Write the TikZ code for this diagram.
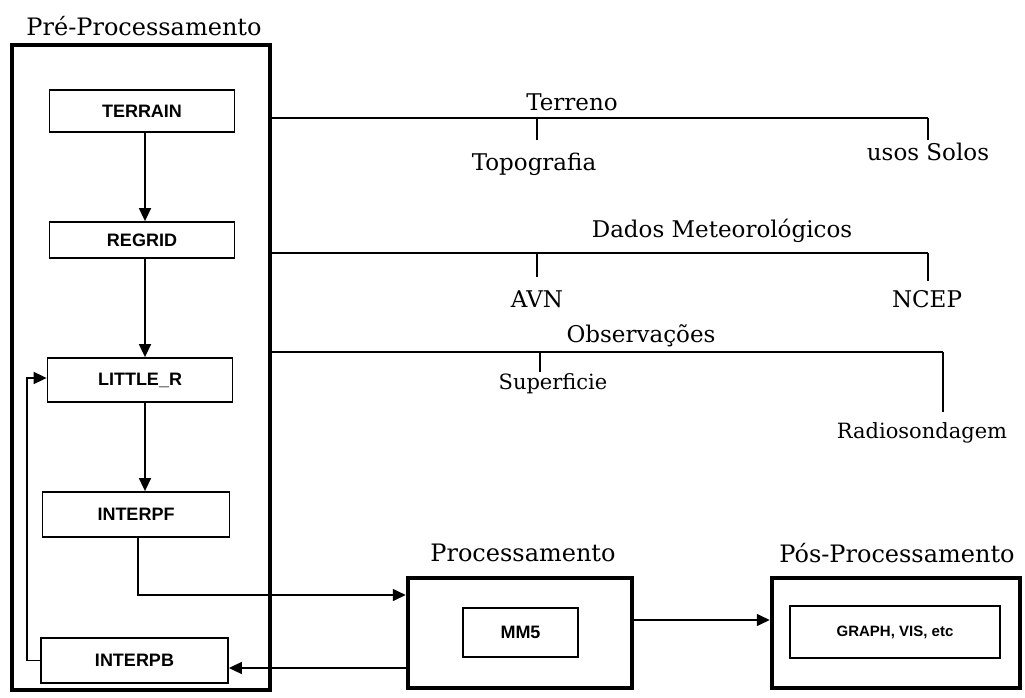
\documentclass[tikz,border=0pt]{standalone}
\usepackage{fontspec}
\setmainfont{DejaVu Serif}
\newfontfamily\boxfont{Liberation Sans}
\usetikzlibrary{arrows.meta}
\begin{document}
\begin{tikzpicture}[x=1pt,y=-1pt,
  inner/.style={draw, line width=1.8pt, inner sep=0pt, font=\boxfont\bfseries\fontsize{18}{18}\selectfont},
  group/.style={draw, line width=4.5pt, inner sep=0pt},
  title/.style={font=\fontsize{24}{24}\selectfont},
  leaf/.style={font=\fontsize{23}{23}\selectfont},
  leafs/.style={font=\fontsize{21}{21}\selectfont},
  flow/.style={line width=1.6pt, -{Triangle[length=13pt,width=12pt]}},
  tree/.style={line width=2.6pt},
  treev/.style={line width=2.4pt}]
\useasboundingbox (0,0) rectangle (1025,698);
% groups
\node[title] (tpre) at (144,26) {Pré-Processamento};
\node[group, minimum width=258pt, minimum height=645pt] (pre) at (141,367.5) {};
\node[title] (tproc) at (523,553) {Processamento};
\node[group, minimum width=224pt, minimum height=110pt] (proc) at (520,633) {};
\node[title] (tpos) at (897,553) {Pós-Processamento};
\node[group, minimum width=248pt, minimum height=110pt] (pos) at (896,633) {};
% inner boxes
\node[inner, minimum width=185pt, minimum height=42pt] (terrain) at (142,111) {TERRAIN};
\node[inner, minimum width=185pt, minimum height=36pt] (regrid) at (142,240) {REGRID};
\node[inner, minimum width=185pt, minimum height=44pt] (little) at (140,380) {LITTLE\_R};
\node[inner, minimum width=187pt, minimum height=45pt] (interpf) at (136,514.5) {INTERPF};
\node[inner, minimum width=187pt, minimum height=45pt] (interpb) at (134.5,660.5) {INTERPB};
\node[inner, minimum width=115pt, minimum height=49pt] (mm5) at (520.5,632.5) {MM5};
\node[inner, minimum width=210pt, minimum height=52pt, font=\boxfont\bfseries\fontsize{15}{15}\selectfont] (graph) at (895,632) {GRAPH, VIS, etc};
% flow connectors
\draw[flow] (terrain.south -| 145,0) -- (regrid.north -| 145,0);
\draw[flow] (regrid.south -| 145,0) -- (little.north -| 145,0);
\draw[flow] (little.south -| 145,0) -- (interpf.north -| 145,0);
\coordinate (fb1) at (27,660.5);
\coordinate (fb2) at (27,378);
\draw[flow] (interpb.west) -- (fb1) -- (fb2) -- (little.west |- fb2);
\coordinate (f1) at (138,595);
\draw[flow] (interpf.south -| f1) -- (f1) -- (proc.west |- f1);
\coordinate (b1) at (408,668);
\draw[flow] (b1) -- (interpb.east |- b1);
\coordinate (p1) at (632,620);
\draw[flow] (p1) -- (pos.west |- p1);
% Terreno tree
\node[leaf] (terreno) at (572,102) {Terreno};
\node[leaf] (topo) at (534,164) {Topografia};
\node[leaf] (usos) at (928,152) {usos Solos};
\coordinate (t0) at (pre.east |- 0,118);
\coordinate (t1) at (537,118);
\coordinate (t2) at (928,118);
\draw[tree] (t0) -- (t2);
\draw[treev] (t1) -- (537,140);
\draw[treev] (t2) -- (928,140);
% Dados tree
\node[leaf] (dados) at (722,231) {Dados Meteorológicos};
\node[leaf] (avn) at (537,299) {AVN};
\node[leaf] (ncep) at (927,299) {NCEP};
\coordinate (d0) at (pre.east |- 0,253);
\coordinate (d1) at (537,253);
\coordinate (d2) at (928,253);
\draw[tree] (d0) -- (d2);
\draw[treev] (d1) -- (537,277);
\draw[treev] (d2) -- (928,281);
% Observacoes tree
\node[leaf] (obs) at (641,336) {Observações};
\node[leafs] (sup) at (553,384) {Superficie};
\node[leafs] (radio) at (922,433) {Radiosondagem};
\coordinate (o0) at (pre.east |- 0,352);
\coordinate (o1) at (540,352);
\coordinate (o2) at (943,352);
\draw[tree] (o0) -- (o2);
\draw[treev] (o1) -- (540,372);
\draw[treev] (o2) -- (943,412);
\end{tikzpicture}
\end{document}
